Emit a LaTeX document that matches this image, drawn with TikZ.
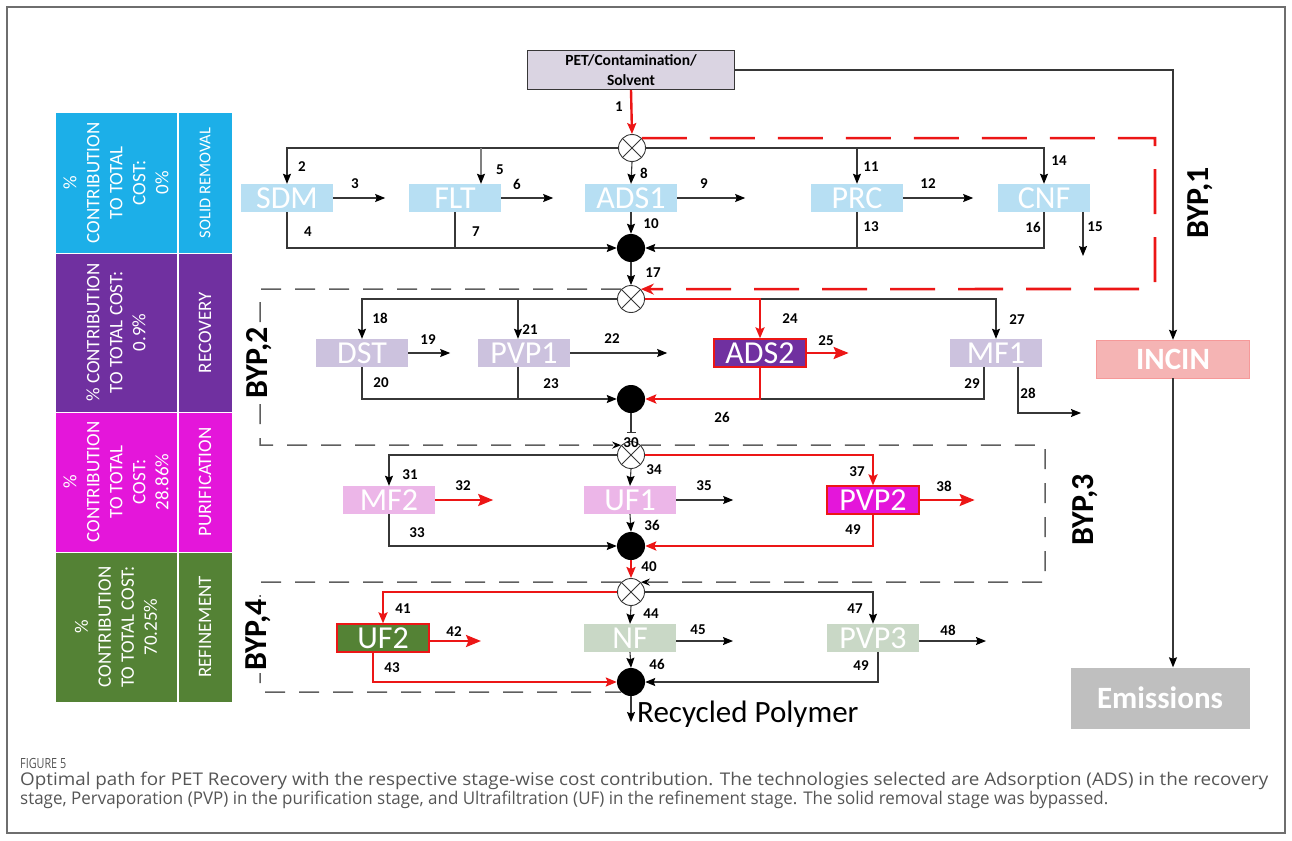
\documentclass[tikz,border=0pt]{standalone}
\usepackage{fontspec}
\usepackage{graphicx}
\setmainfont{Carlito}
\newfontfamily\capfont{Open Sans}
\usetikzlibrary{arrows.meta, positioning}

\definecolor{solidblue}{RGB}{28,175,232}
\definecolor{recpurple}{RGB}{112,48,160}
\definecolor{purmag}{RGB}{228,22,218}
\definecolor{refgreen}{RGB}{84,130,53}
\definecolor{paleblue}{RGB}{183,223,243}
\definecolor{palepurple}{RGB}{204,194,222}
\definecolor{palepink}{RGB}{236,182,232}
\definecolor{palegreen}{RGB}{201,216,198}
\definecolor{incinpink}{RGB}{245,180,180}
\definecolor{emisgray}{RGB}{191,191,191}
\definecolor{feedlav}{RGB}{218,212,226}
\definecolor{pathred}{RGB}{236,22,22}
\definecolor{linegray}{RGB}{55,55,55}
\definecolor{dashgray}{RGB}{95,95,95}
\definecolor{capgray}{RGB}{85,85,85}
\definecolor{framegray}{RGB}{110,110,110}

\tikzstyle{unit} = [rectangle, minimum width=92pt, minimum height=28pt, inner sep=0pt, text=white, font=\fontsize{32}{32}\selectfont]
\tikzstyle{chosen} = [unit, draw=pathred, line width=1.3pt]
\tikzstyle{mixer} = [circle, draw=linegray, fill=white, line width=0.9pt, minimum size=27pt, inner sep=0pt, path picture={\draw[linegray, line width=0.9pt] (path picture bounding box.north west) -- (path picture bounding box.south east) (path picture bounding box.south west) -- (path picture bounding box.north east);}]
\tikzstyle{collector} = [circle, fill=black, minimum size=28pt, inner sep=0pt]
\tikzstyle{num} = [font=\fontsize{15}{15}\selectfont\bfseries, inner sep=0pt]
\tikzstyle{stream} = [draw=linegray, line width=1.1pt]
\tikzstyle{arrow} = [stream, -{Stealth[length=10pt, width=8pt, inset=1.5pt, color=black]}]
\tikzstyle{redline} = [draw=pathred, line width=2.4pt]
\tikzstyle{redflow} = [redline, -{Stealth[length=11pt, width=9pt, inset=2pt]}]
\tikzstyle{redout} = [redline, -{Stealth[length=15pt, width=12pt, inset=2.5pt]}]
\tikzstyle{bypass} = [draw=dashgray, line width=1.5pt, dash pattern=on 20pt off 14pt]
\tikzstyle{redbypass} = [draw=pathred, line width=2.6pt, dash pattern=on 45pt off 23pt]
\tikzstyle{byplabel} = [rotate=90, font=\fontsize{32}{32}\selectfont\bfseries, inner sep=2pt]
\tikzstyle{costcell} = [rectangle, rotate=90, draw=white, line width=1pt, text=white, align=center, inner sep=0pt, font=\fontsize{19}{23}\selectfont]
\tikzstyle{stagecell} = [costcell, minimum height=54pt]

\begin{document}
\begin{tikzpicture}[x=1pt, y=-1pt]
\useasboundingbox (0,0) rectangle (1292,840);
\draw[framegray, line width=1.3pt] (7,7) rectangle (1285,833);

% Cost contribution table
\node[costcell, fill=solidblue, minimum width=140pt, minimum height=122pt] (cost1) at (116,183) {\%\\CONTRIBUTION\\TO TOTAL\\COST:\\0\%};
\node[stagecell, fill=solidblue, minimum width=140pt, font=\fontsize{16.5}{20}\selectfont] (stage1) at (205,183) {SOLID REMOVAL};
\node[costcell, fill=recpurple, minimum width=159pt, minimum height=122pt] (cost2) at (116,332.5) {\% CONTRIBUTION\\TO TOTAL COST:\\0.9\%};
\node[stagecell, fill=recpurple, minimum width=159pt] (stage2) at (205,332.5) {RECOVERY};
\node[costcell, fill=purmag, minimum width=140pt, minimum height=122pt] (cost3) at (116,482) {\%\\CONTRIBUTION\\TO TOTAL\\COST:\\28.86\%};
\node[stagecell, fill=purmag, minimum width=140pt] (stage3) at (205,482) {PURIFICATION};
\node[costcell, fill=refgreen, minimum width=150pt, minimum height=122pt] (cost4) at (116,627) {\%\\CONTRIBUTION\\TO TOTAL COST:\\70.25\%};
\node[stagecell, fill=refgreen, minimum width=150pt] (stage4) at (205,627) {REFINEMENT};

% Feed, incineration and emissions
\node[rectangle, draw=linegray, line width=1pt, fill=feedlav, minimum width=207pt, minimum height=39pt, inner sep=0pt, align=center, font=\fontsize{15.5}{20}\selectfont\bfseries] (feed) at (631,70) {PET/Contamination/\\Solvent};
\node[rectangle, draw=incinpink!85!red, fill=incinpink, minimum width=153pt, minimum height=38pt, text=white, font=\fontsize{31}{31}\selectfont\bfseries] (incin) at (1173,359) {INCIN};
\node[rectangle, fill=emisgray, minimum width=179pt, minimum height=61pt, text=white, font=\fontsize{31}{31}\selectfont\bfseries] (emis) at (1160,698) {Emissions};

% Mixers and collectors
\node[mixer] (mix1) at (632,148) {};
\node[collector] (col1) at (631,248) {};
\node[mixer] (mix2) at (631,299) {};
\node[collector] (col2) at (631,399) {};
\node[mixer] (mix3) at (631,455) {};
\node[collector] (col3) at (631,546) {};
\node[mixer] (mix4) at (631,592) {};
\node[collector] (col4) at (631,682) {};

% Solid removal units
\node[unit, fill=paleblue] (sdm) at (287,198) {SDM};
\node[unit, fill=paleblue] (flt) at (455,198) {FLT};
\node[unit, fill=paleblue] (ads1) at (631,198) {ADS1};
\node[unit, fill=paleblue] (prc) at (857,198) {PRC};
\node[unit, fill=paleblue] (cnf) at (1044,198) {CNF};

% Recovery units
\node[unit, fill=palepurple] (dst) at (362,353) {DST};
\node[unit, fill=palepurple] (pvp1) at (524,353) {PVP1};
\node[chosen, fill=recpurple] (ads2) at (760,353) {ADS2};
\node[unit, fill=palepurple] (mf1) at (996,353) {MF1};

% Purification units
\node[unit, fill=palepink] (mf2) at (389,500) {MF2};
\node[unit, fill=palepink] (uf1) at (630,500) {UF1};
\node[chosen, fill=purmag] (pvp2) at (873,500) {PVP2};

% Refinement units
\node[chosen, fill=refgreen] (uf2) at (383,638) {UF2};
\node[unit, fill=palegreen] (nf) at (630,638) {NF};
\node[unit, fill=palegreen] (pvp3) at (873,638) {PVP3};

% Free ends
\coordinate[right=52pt of sdm] (sdmout);
\coordinate[right=52pt of flt] (fltout);
\coordinate[right=68pt of ads1] (ads1out);
\coordinate[right=70pt of prc] (prcout);
\coordinate (cnfout) at (1083,256);
\coordinate[right=42pt of dst] (dstout);
\coordinate[right=97pt of pvp1] (pvp1out);
\coordinate[right=42pt of ads2] (ads2out);
\coordinate (mf1out) at (1081,413);
\coordinate (bar30) at (631,433);
\coordinate[right=58pt of mf2] (mf2out);
\coordinate[right=57pt of uf1] (uf1out);
\coordinate[right=55pt of pvp2] (pvp2out);
\coordinate (uf2out) at (481,641);
\coordinate (nfout) at (733,641);
\coordinate (pvp3out) at (986,641);
\coordinate (prodend) at (631,722);
\coordinate (fltin) at (481,198);
\coordinate (pvp1in) at (518,353);
\coordinate (mf1low) at (984,353);
\coordinate (mf1side) at (1018,353);
\coordinate (uf2low) at (373,638);
\coordinate (pvp3low) at (878,638);
\coordinate (byp1) at (1155,289);
\coordinate (byp2) at (260,445);
\coordinate (byp3) at (1045,582);
\coordinate (byp4) at (260,692);

% Feed streams
\draw[redflow] (feed.south) -- (mix1.north);
\draw[arrow] (feed.east) -| (incin.north);
\draw[arrow] (incin.south) -- (incin.south |- emis.north);

% Solid removal streams
\draw[arrow] (mix1.west) -| (sdm.north);
\draw[arrow] (mix1.east) -| (cnf.north);
\draw[arrow, draw=gray] (fltin |- mix1) -- (fltin |- flt.north);
\draw[arrow] (mix1.south) -- (ads1.north);
\draw[arrow] (prc.north |- mix1) -- (prc.north);
\draw[arrow] (sdm.east) -- (sdmout);
\draw[arrow] (flt.east) -- (fltout);
\draw[arrow] (ads1.east) -- (ads1out);
\draw[arrow] (prc.east) -- (prcout);
\draw[arrow] (cnfout |- cnf.south) -- (cnfout);
\draw[arrow] (sdm.south) |- (col1.west);
\draw[stream] (flt.south) -- (flt.south |- col1);
\draw[arrow] (ads1.south) -- (col1.north);
\draw[stream] (prc.south) -- (prc.south |- col1);
\draw[arrow] (cnf.south) |- (col1.east);
\draw[arrow] (col1.south) -- (mix2.north);

% Recovery streams
\draw[arrow] (mix2.west) -| (dst.north);
\draw[arrow] (mix2.east) -| (mf1.north);
\draw[arrow] (pvp1in |- mix2) -- (pvp1in |- pvp1.north);
\draw[redflow] (mix2.east) -| (ads2.north);
\draw[arrow] (dst.east) -- (dstout);
\draw[arrow] (pvp1.east) -- (pvp1out);
\draw[redout] (ads2.east) -- (ads2out);
\draw[arrow] (mf1side |- mf1.south) |- (mf1out);
\draw[arrow] (dst.south) |- (col2.west);
\draw[stream] (pvp1in |- pvp1.south) -- (pvp1in |- col2);
\draw[stream] (mf1low |- mf1.south) |- (ads2.south |- col2);
\draw[redflow] (ads2.south) |- (col2.east);
\draw[stream, -{Bar[width=9pt]}] (col2.south) -- (bar30);

% Purification streams
\draw[arrow] (mix3.west) -| (mf2.north);
\draw[arrow] (mix3.south) -- (uf1.north);
\draw[redflow] (mix3.east) -| (pvp2.north);
\draw[redout] (mf2.east) -- (mf2out);
\draw[arrow] (uf1.east) -- (uf1out);
\draw[redout] (pvp2.east) -- (pvp2out);
\draw[arrow] (mf2.south) |- (col3.west);
\draw[arrow] (uf1.south) -- (col3.north);
\draw[redflow] (pvp2.south) |- (col3.east);
\draw[redflow] (col3.south) -- (mix4.north);

% Refinement streams
\draw[redflow] (mix4.west) -| (uf2.north);
\draw[arrow] (mix4.east) -| (pvp3.north);
\draw[arrow] (mix4.south) -- (nf.north);
\draw[redout] (uf2.east |- uf2out) -- (uf2out);
\draw[arrow] (nf.east |- nfout) -- (nfout);
\draw[arrow] (pvp3.east |- pvp3out) -- (pvp3out);
\draw[redflow] (uf2low |- uf2.south) |- (col4.west);
\draw[arrow] (nf.south) -- (col4.north);
\draw[arrow] (pvp3low |- pvp3.south) |- (col4.east);
\draw[arrow] (col4.south) -- (prodend);
\node[anchor=base west, inner sep=0pt, font=\fontsize{31}{31}\selectfont] (product) at (637,722) {Recycled Polymer};

% Bypasses
\draw[redbypass, -{Stealth[length=13pt, width=11pt]}] (mix1.45) -| (byp1) -- (mix2.45);
\draw[bypass, -{Stealth[length=9pt, width=7pt, color=black]}] (mix2.135) -| (byp2) -- (mix3.135);
\draw[bypass, -{Stealth[length=9pt, width=7pt, color=black]}] (mix3.45) -| (byp3) -- (mix4.45);
\draw[bypass] (mix4.135) -| (byp4) -- (col4.225);
\node[byplabel] (bypl1) at (1200,203) {BYP,1};
\node[byplabel, fill=white] (bypl2) at (259,363) {BYP,2};
\node[byplabel] (bypl3) at (1085,510) {BYP,3};
\node[byplabel, fill=white] (bypl4) at (258,635) {BYP,4};

% Stream numbers
\node[num] (l1) at (619,107) {1};
\node[num] (l2) at (302,167) {2};
\node[num] (l3) at (355,184) {3};
\node[num] (l4) at (308,232) {4};
\node[num] (l5) at (500,170) {5};
\node[num] (l6) at (517,184) {6};
\node[num] (l7) at (476,232) {7};
\node[num] (l8) at (644,173) {8};
\node[num] (l9) at (704,184) {9};
\node[num] (l10) at (651,224) {10};
\node[num] (l11) at (871,167) {11};
\node[num] (l12) at (928,184) {12};
\node[num] (l13) at (871,227) {13};
\node[num] (l14) at (1059,161) {14};
\node[num] (l15) at (1095,227) {15};
\node[num] (l16) at (1033,227) {16};
\node[num] (l17) at (653,273) {17};
\node[num] (l18) at (380,318) {18};
\node[num] (l19) at (428,340) {19};
\node[num] (l20) at (381,383) {20};
\node[num] (l21) at (530,330) {21};
\node[num] (l22) at (612,339) {22};
\node[num] (l23) at (551,384) {23};
\node[num] (l24) at (790,319) {24};
\node[num] (l25) at (826,341) {25};
\node[num] (l26) at (722,417) {26};
\node[num] (l27) at (1017,320) {27};
\node[num] (l28) at (1028,393) {28};
\node[num] (l29) at (972,384) {29};
\node[num] (l30) at (631,443) {30};
\node[num] (l31) at (410,475) {31};
\node[num] (l32) at (463,486) {32};
\node[num] (l33) at (417,533) {33};
\node[num] (l34) at (654,470) {34};
\node[num] (l35) at (704,486) {35};
\node[num] (l36) at (652,525) {36};
\node[num] (l37) at (857,472) {37};
\node[num] (l38) at (944,486) {38};
\node[num] (l49a) at (853,530) {49};
\node[num] (l40) at (649,567) {40};
\node[num] (l41) at (403,609) {41};
\node[num] (l42) at (454,632) {42};
\node[num] (l43) at (392,668) {43};
\node[num] (l44) at (651,614) {44};
\node[num] (l45) at (698,630) {45};
\node[num] (l46) at (657,664) {46};
\node[num] (l47) at (855,609) {47};
\node[num] (l48) at (948,630) {48};
\node[num] (l49b) at (861,666) {49};

% Caption
\node[anchor=west, inner sep=0pt, text=capgray, font=\capfont\fontsize{14}{14}\selectfont] (figlabel) at (20,763) {\resizebox{46pt}{\height}{FIGURE 5}};
\node[anchor=west, inner sep=0pt, text=capgray, font=\capfont\fontsize{17.5}{17.5}\selectfont] (capline1) at (20,781) {\resizebox{1248pt}{\height}{Optimal path for PET Recovery with the respective stage-wise cost contribution. The technologies selected are Adsorption (ADS) in the recovery}};
\node[anchor=west, inner sep=0pt, text=capgray, font=\capfont\fontsize{17.5}{17.5}\selectfont] (capline2) at (20,800) {\resizebox{1088pt}{\height}{stage, Pervaporation (PVP) in the purification stage, and Ultrafiltration (UF) in the refinement stage. The solid removal stage was bypassed.}};
\end{tikzpicture}
\end{document}
